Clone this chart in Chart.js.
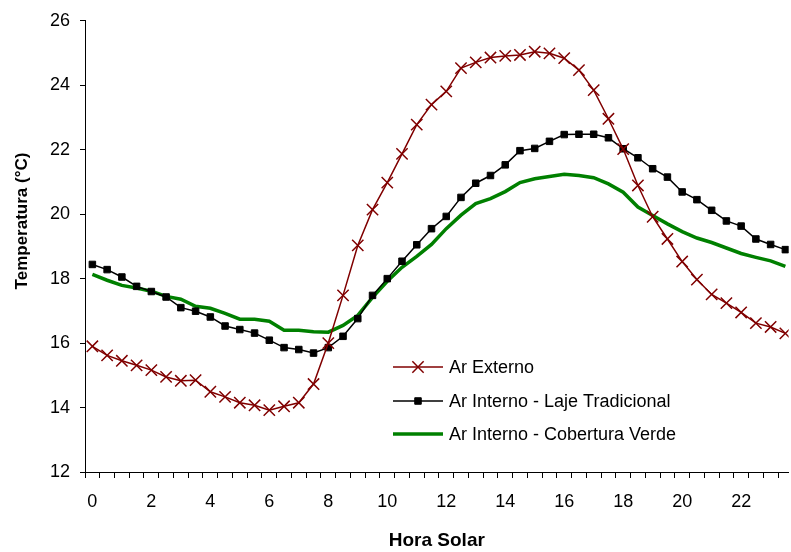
<!DOCTYPE html>
<html>
<head>
<meta charset="utf-8">
<title>Temperatura - Hora Solar</title>
<script src="https://cdn.jsdelivr.net/npm/chart.js@4.4.0/dist/chart.umd.min.js"></script>
<style>
    html, body { margin: 0; padding: 0; background: #fff; }
    #grafico { display: block; }
</style>
</head>
<body>
<canvas id="grafico" width="791" height="552"></canvas>
<script>
// ============================================
// DADOS (medições a cada meia hora)
// ============================================
const horas = [0, 0.5, 1, 1.5, 2, 2.5, 3, 3.5, 4, 4.5, 5, 5.5, 6, 6.5, 7, 7.5,
    8, 8.5, 9, 9.5, 10, 10.5, 11, 11.5, 12, 12.5, 13, 13.5, 14, 14.5, 15, 15.5,
    16, 16.5, 17, 17.5, 18, 18.5, 19, 19.5, 20, 20.5, 21, 21.5, 22, 22.5, 23, 23.5];

const arExterno = [15.90, 15.62, 15.45, 15.31, 15.16, 14.95, 14.83, 14.85, 14.49, 14.33, 14.15, 14.07,
    13.92, 14.04, 14.15, 14.73, 16.00, 17.48, 19.03, 20.14, 20.98, 21.87, 22.78, 23.40,
    23.81, 24.53, 24.71, 24.86, 24.91, 24.94, 25.04, 24.99, 24.84, 24.47, 23.85, 22.96,
    22.02, 20.89, 19.92, 19.23, 18.53, 17.97, 17.51, 17.24, 16.95, 16.62, 16.50, 16.30];

const lajeTradicional = [18.44, 18.28, 18.05, 17.76, 17.60, 17.43, 17.10, 16.99, 16.81, 16.53, 16.42, 16.31,
    16.09, 15.86, 15.80, 15.69, 15.86, 16.21, 16.76, 17.48, 18.00, 18.54, 19.05, 19.55,
    19.93, 20.52, 20.96, 21.20, 21.53, 21.97, 22.04, 22.26, 22.47, 22.48, 22.48, 22.37,
    22.03, 21.75, 21.41, 21.15, 20.69, 20.45, 20.12, 19.79, 19.63, 19.23, 19.06, 18.90];

const coberturaVerde = [18.13, 17.95, 17.79, 17.71, 17.61, 17.45, 17.36, 17.14, 17.08, 16.92, 16.74, 16.74,
    16.68, 16.40, 16.40, 16.35, 16.34, 16.55, 16.86, 17.42, 17.92, 18.35, 18.69, 19.06,
    19.55, 19.97, 20.33, 20.48, 20.70, 20.98, 21.10, 21.17, 21.24, 21.20, 21.13, 20.94,
    20.68, 20.22, 19.96, 19.70, 19.46, 19.26, 19.12, 18.95, 18.78, 18.66, 18.55, 18.38];

const rotulosHora = [0, 2, 4, 6, 8, 10, 12, 14, 16, 18, 20, 22];
const rotulosTemp = [12, 14, 16, 18, 20, 22, 24, 26];

const FONTE = "'Liberation Sans', Arial, sans-serif";

function pontos(valores) {
    return horas.map((h, i) => ({ x: h, y: valores[i] }));
}

// ============================================
// LEGENDA DENTRO DA ÁREA DO GRÁFICO
// ============================================
const legendaInterna = {
    id: 'legendaInterna',
    afterDatasetsDraw(chart) {
        const ctx = chart.ctx;
        const x0 = 393, x1 = 443, xTexto = 449;
        const linhas = [367, 401, 434];

        ctx.save();
        chart.data.datasets.forEach((ds, i) => {
            const y = linhas[i];
            ctx.strokeStyle = ds.borderColor;
            ctx.lineWidth = ds.borderWidth;
            ctx.beginPath();
            ctx.moveTo(x0, y);
            ctx.lineTo(x1, y);
            ctx.stroke();

            if (ds.pointRadius > 0) {
                ctx.fillStyle = ds.pointBackgroundColor;
                ctx.strokeStyle = ds.pointBorderColor;
                ctx.lineWidth = ds.pointBorderWidth;
                Chart.helpers.drawPoint(ctx, {
                    pointStyle: ds.pointStyle,
                    radius: ds.pointRadius,
                    borderWidth: ds.pointBorderWidth,
                    rotation: 0
                }, (x0 + x1) / 2, y);
            }

            ctx.fillStyle = '#000';
            ctx.font = '18px ' + FONTE;
            ctx.textBaseline = 'middle';
            ctx.textAlign = 'left';
            ctx.fillText(ds.label, xTexto, y + 1);
        });
        ctx.restore();
    }
};

// título do eixo Y, um pouco acima do centro do eixo
const tituloEixoY = {
    id: 'tituloEixoY',
    afterDraw(chart) {
        const ctx = chart.ctx;
        ctx.save();
        ctx.translate(22, 221);
        ctx.rotate(-Math.PI / 2);
        ctx.fillStyle = '#000';
        ctx.font = 'bold 17px ' + FONTE;
        ctx.textAlign = 'center';
        ctx.textBaseline = 'middle';
        ctx.fillText('Temperatura (°C)', 0, 0);
        ctx.restore();
    }
};

// ============================================
// GRÁFICO
// ============================================
const ctx = document.getElementById('grafico');

new Chart(ctx, {
    type: 'line',
    data: {
        datasets: [{
            label: 'Ar Externo',
            data: pontos(arExterno),
            borderColor: '#800000',
            borderWidth: 1.5,
            pointStyle: 'crossRot',
            pointRadius: 8,
            pointBorderWidth: 1.5,
            pointBorderColor: '#800000',
            pointBackgroundColor: '#800000',
            tension: 0
        }, {
            label: 'Ar Interno - Laje Tradicional',
            data: pontos(lajeTradicional),
            borderColor: '#000000',
            borderWidth: 1.5,
            pointStyle: 'rect',
            pointRadius: 4.6,
            pointBorderWidth: 1,
            pointBorderColor: '#000000',
            pointBackgroundColor: '#000000',
            tension: 0
        }, {
            label: 'Ar Interno - Cobertura Verde',
            data: pontos(coberturaVerde),
            borderColor: '#008000',
            borderWidth: 3.5,
            pointRadius: 0,
            tension: 0
        }]
    },
    options: {
        responsive: false,
        animation: false,
        devicePixelRatio: 1,
        layout: { autoPadding: false, padding: { top: 20, right: 0, bottom: 0, left: 0 } },
        plugins: {
            legend: { display: false },
            tooltip: { enabled: false }
        },
        scales: {
            x: {
                type: 'linear',
                min: -0.25,
                max: 23.61,
                afterFit(scale) { scale.height = 80; },
                afterBuildTicks(scale) {
                    // marcas nas divisões entre horários + rótulos nas horas pares
                    const lista = [];
                    for (let k = 0; k < 48; k++) lista.push({ value: k * 0.5 - 0.25 });
                    rotulosHora.forEach(h => lista.push({ value: h }));
                    lista.sort((a, b) => a.value - b.value);
                    scale.ticks = lista;
                },
                border: { display: true, color: '#000', width: 1 },
                grid: {
                    drawOnChartArea: false,
                    drawTicks: true,
                    tickLength: 6,
                    tickWidth: 1,
                    tickColor: (c) => (c.tick && rotulosHora.includes(c.tick.value)) ? 'rgba(0,0,0,0)' : '#000'
                },
                ticks: {
                    autoSkip: false,
                    maxRotation: 0,
                    padding: 13,
                    color: '#000',
                    font: { family: FONTE, size: 18 },
                    callback: (v) => rotulosHora.includes(v) ? String(v) : ''
                },
                title: {
                    display: true,
                    text: 'Hora Solar',
                    color: '#000',
                    font: { family: FONTE, size: 19, weight: 'bold' },
                    padding: { top: 0, bottom: 0 }
                }
            },
            y: {
                min: 12,
                max: 26,
                afterFit(scale) { scale.width = 85; },
                afterBuildTicks(scale) {
                    scale.ticks = rotulosTemp.map(v => ({ value: v }));
                },
                border: { display: true, color: '#000', width: 1 },
                grid: {
                    drawOnChartArea: false,
                    drawTicks: true,
                    tickLength: 5,
                    color: '#000'
                },
                ticks: {
                    padding: 10,
                    color: '#000',
                    font: { family: FONTE, size: 18 }
                },
                title: { display: false }
            }
        }
    },
    plugins: [legendaInterna, tituloEixoY]
});
</script>
</body>
</html>
